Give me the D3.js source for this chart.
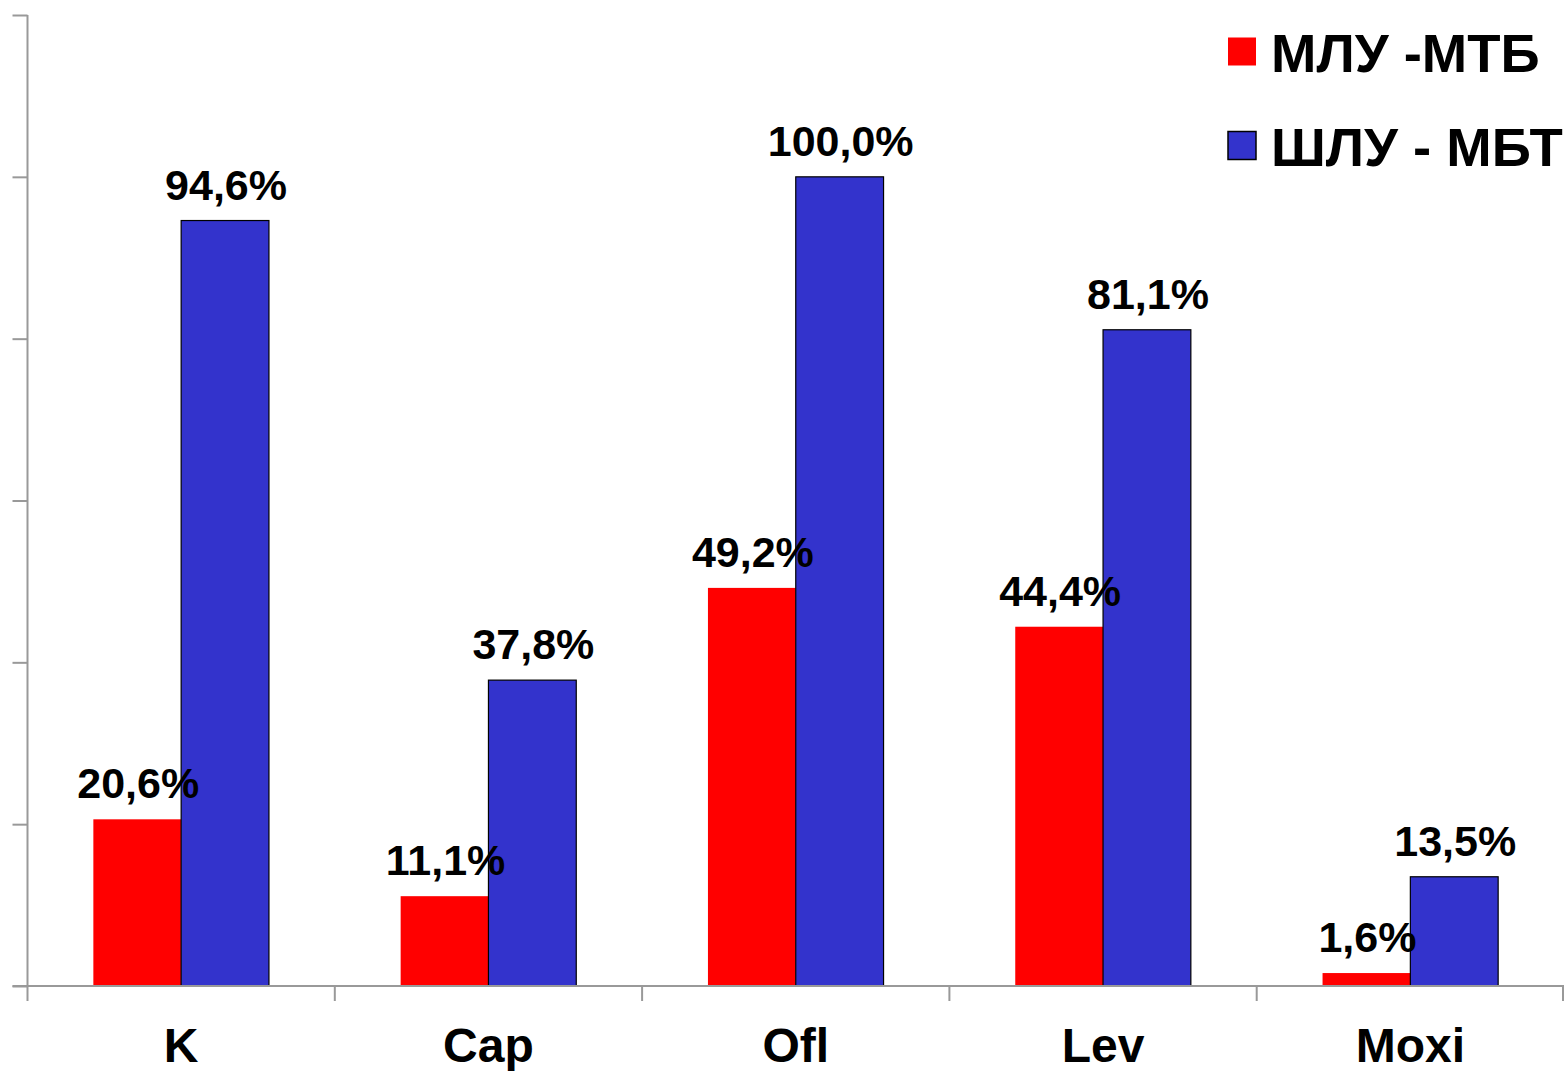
<!DOCTYPE html>
<html>
<head>
<meta charset="utf-8">
<script src="https://cdn.jsdelivr.net/npm/d3@7"></script>
<style>
  html, body { margin: 0; padding: 0; background: #fff; }
  svg { display: block; }
  text { font-family: "Liberation Sans", Arial, sans-serif; font-weight: bold; fill: #000; }
</style>
</head>
<body>
<svg id="chart" width="1564" height="1071"></svg>
<script>
// Drug resistance shares, percent
const categories = ["K", "Cap", "Ofl", "Lev", "Moxi"];
const seriesNames = ["МЛУ -МТБ", "ШЛУ - МБТ"];
const mluValues = [20.6, 11.1, 49.2, 44.4, 1.6];
const shluValues = [94.6, 37.8, 100.0, 81.1, 13.5];
const yTicks = [0, 20, 40, 60, 80, 100, 120];
const seriesColors = ["#FF0000", "#3333CC"];

const svg = d3.select("#chart");
const W = 1564, H = 1071;
const margin = { left: 27.5, right: 0, top: 15, bottom: 85 };
const axisY = H - margin.bottom;

const x0 = d3.scaleBand().domain(categories).range([margin.left, W - margin.right]).padding(0);
const bw = x0.bandwidth();
const unit = bw / 3.5; // two bars plus a 150% gap
const x1 = d3.scaleBand().domain(seriesNames).range([0.75 * unit, 2.75 * unit]).padding(0);
const y = d3.scaleLinear().domain([0, 120]).range([axisY, margin.top]);

const rows = categories.map((c, i) => ({
  cat: c,
  vals: [
    { s: seriesNames[0], v: mluValues[i], idx: 0 },
    { s: seriesNames[1], v: shluValues[i], idx: 1 }
  ]
}));

const fmt = v => d3.format(".1f")(v).replace(".", ",") + "%";

// bars
const groups = svg.append("g").selectAll("g").data(rows).join("g")
  .attr("transform", d => `translate(${x0(d.cat)},0)`);
groups.selectAll("rect").data(d => d.vals).join("rect")
  .attr("x", d => x1(d.s))
  .attr("width", x1.bandwidth())
  .attr("y", d => y(d.v))
  .attr("height", d => y(0) - y(d.v))
  .attr("fill", d => seriesColors[d.idx])
  .attr("stroke", d => d.idx === 1 ? "#000" : "none")
  .attr("stroke-width", 1.2);

// y axis
const yAxis = d3.axisLeft(y).tickValues(yTicks).tickSize(15).tickFormat("");
const gy = svg.append("g").attr("transform", `translate(${margin.left},0)`).call(yAxis);
gy.select(".domain").attr("d", `M0,${y(120)}V${axisY}`);

// x axis with ticks at category boundaries
const gx = svg.append("g").attr("transform", `translate(0,${axisY})`);
gx.append("line").attr("x1", margin.left - 15).attr("x2", W).attr("y1", 0).attr("y2", 0);
const bounds = categories.map(c => x0(c)).concat([x0(categories[categories.length - 1]) + bw - 1]);
gx.selectAll("line.tk").data(bounds).join("line").attr("class", "tk")
  .attr("x1", d => d).attr("x2", d => d).attr("y1", 0).attr("y2", 15);
gx.selectAll("text").data(categories).join("text")
  .attr("x", d => x0(d) + bw / 2)
  .attr("y", 76)
  .attr("text-anchor", "middle")
  .attr("font-size", 48)
  .text(d => d);

svg.selectAll(".tick line, .domain, g line").attr("stroke", "#999").attr("stroke-width", 2).attr("fill", "none");

// value labels
const labels = svg.append("g");
rows.forEach(r => {
  r.vals.forEach(d => {
    labels.append("text")
      .attr("x", x0(r.cat) + x1(d.s) + x1.bandwidth() / 2 + 1)
      .attr("y", y(d.v) - 21)
      .attr("text-anchor", "middle")
      .attr("font-size", 43)
      .text(fmt(d.v));
  });
});

// legend
const legend = svg.append("g");
seriesNames.forEach((name, i) => {
  const cy = 51.5 + i * 94;
  legend.append("rect")
    .attr("x", 1228).attr("y", cy - 14).attr("width", 28).attr("height", 28)
    .attr("fill", seriesColors[i])
    .attr("stroke", i === 1 ? "#000" : "none").attr("stroke-width", 1.5);
  legend.append("text")
    .attr("x", 1271).attr("y", cy + 20)
    .attr("font-size", 54.5)
    .text(name);
});
</script>
</body>
</html>
